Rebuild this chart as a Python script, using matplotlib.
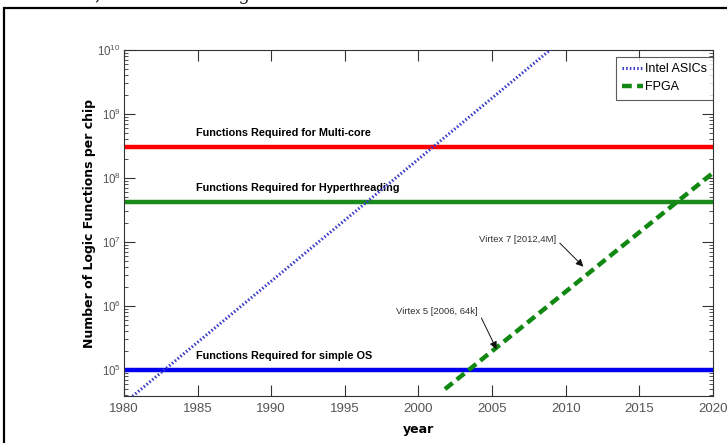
import numpy as np
import matplotlib
matplotlib.use("Agg")
import matplotlib.pyplot as plt
from matplotlib.patches import Rectangle

# data
asic_years = [1980, 2010]
asic_funcs = [3.0e4, 1.6e10]
fpga_years = [2001.8, 2020]
fpga_funcs = [5.0e4, 1.2e8]

req_names = ["Functions Required for Multi-core",
             "Functions Required for Hyperthreading",
             "Functions Required for simple OS"]
req_levels = [3.0e8, 4.2e7, 1.0e5]
req_colors = ["#ff0000", "#1a8a1a", "#0000ee"]

virtex_names = ["Virtex 5 [2006, 64k]", "Virtex 7 [2012,4M]"]
virtex_pts = [(2005.3, 2.1e5), (2011.2, 4.1e6)]
virtex_txt = [(1998.5, 8.3e5), (2004.1, 1.1e7)]

xticks = [1980, 1985, 1990, 1995, 2000, 2005, 2010, 2015, 2020]

narrow = ["Liberation Sans", "DejaVu Sans"]
F = 9.5

fig = plt.figure(figsize=(7.27, 4.43), dpi=100)
ax = fig.add_axes([0.1706, 0.1061, 0.8101, 0.781])

# page frame + cut caption text
fig.patches.append(Rectangle((4/727, -0.1), 1.2, 1 - 8/443 + 0.1,
                             transform=fig.transFigure, fill=False,
                             edgecolor='k', lw=1.6))
fig.text(0.075, 1.012, "ated, as shown in Figure 6.", family="DejaVu Serif",
         fontsize=13, va='center', color='#222222')

for name, lev, c in zip(req_names, req_levels, req_colors):
    ax.axhline(lev, color=c, lw=3.2, zorder=2)
    ax.text(1984.9, lev * 1.38, name, fontsize=7.8, fontweight='bold',
            family=narrow, va='bottom', ha='left')

ax.plot(asic_years, asic_funcs, color='#3a3ac8', lw=2.2,
        linestyle=(0, (0.5, 0.7)), label='Intel ASICs', zorder=3)
ax.plot(fpga_years, fpga_funcs, color='#118811', lw=3.2,
        linestyle=(0, (2.2, 1.2)), label='FPGA', zorder=3)

for name, pt, tp in zip(virtex_names, virtex_pts, virtex_txt):
    ax.annotate(name, xy=pt, xytext=tp, fontsize=6.8, family=narrow,
                color='#333333', ha='left', va='center',
                arrowprops=dict(arrowstyle='-|>', color='#111111', lw=0.7,
                                mutation_scale=11, shrinkA=1, shrinkB=0,
                                relpos=(1.0, 0.5)))

ax.set_yscale('log')
ax.set_xlim(1980, 2020)
ax.set_ylim(3.9e4, 1e10)
ax.set_xticks(xticks)
ax.tick_params(which='both', direction='in', top=True, right=True,
               labelsize=F, labelcolor='#555555', color='#333333')
ax.tick_params(which='major', length=8)
ax.tick_params(which='minor', length=3)
ax.tick_params(axis='x', which='minor', top=False, bottom=False)
ax.tick_params(axis='x', pad=5)
ax.tick_params(axis='y', labelsize=8.3, pad=2.5)
for lab in ax.get_xticklabels() + ax.get_yticklabels():
    lab.set_family(narrow)
for sp in ax.spines.values():
    sp.set_color('#333333')

ax.set_xlabel('year', fontsize=9, fontweight='bold', labelpad=6)
ax.set_ylabel('Number of Logic Functions per chip', fontsize=9,
              fontweight='heavy')
ax.yaxis.set_label_coords(-0.047, 0.5)

leg = ax.legend(loc='upper right', prop={'family': narrow, 'size': 9},
                fancybox=False, edgecolor='#333333', handlelength=1.7,
                handletextpad=0.1, borderpad=0.5, labelspacing=0.5,
                borderaxespad=0.0, bbox_to_anchor=(1.0, 0.98))
leg.get_frame().set_linewidth(0.8)

fig.savefig('out.png', dpi=100)
